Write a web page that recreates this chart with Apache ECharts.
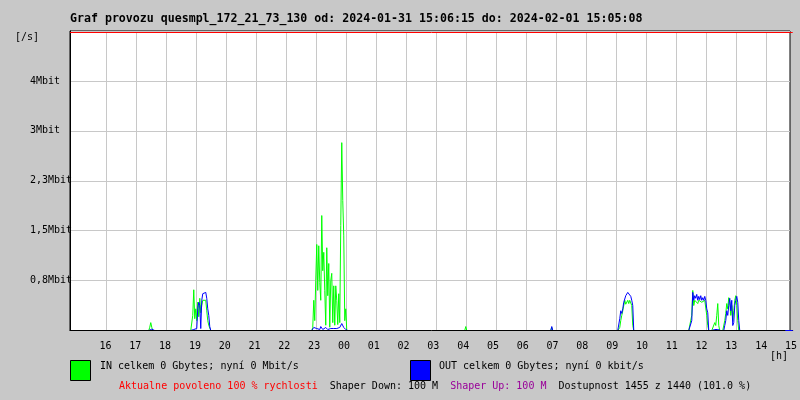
<!DOCTYPE html>
<html>
<head>
<meta charset="utf-8">
<script src="https://cdn.jsdelivr.net/npm/echarts@6/dist/echarts.min.js"></script>
<style>html,body{margin:0;padding:0;background:#c8c8c8}#c{width:800px;height:400px}</style>
</head>
<body>
<div id="c"></div>
<script>
// ---- data (Mbit/s, one sample every 2 minutes inside each burst, zero elsewhere) ----
const TITLE = 'Graf provozu quesmpl_172_21_73_130 od: 2024-01-31 15:06:15 do: 2024-02-01 15:05:08';
const AXIS_START = '2024-01-31 14:48:30';
const AXIS_END = '2024-02-01 14:48:30';
const LABEL_END = '2024-02-01 15:03:30';
const GRID_START = '2024-01-31 15:28:30';   // first drawn hour line is 16
const FIRST_HOUR_LABEL = '2024-01-31 16:00';
const STEP_MIN = 2;
const Y_MAX = 4.56;
const Y_STEP = 0.76;
const Y_LABELS = ['', '0,8Mbit', '1,5Mbit', '2,3Mbit', '3Mbit', '4Mbit', ''];
const LIMIT = 4.54;

const segStarts = ['2024-01-31 17:26', '2024-01-31 18:50', '2024-01-31 21:32', '2024-01-31 22:52',
  '2024-02-01 03:58', '2024-02-01 06:50', '2024-02-01 09:04', '2024-02-01 10:22', '2024-02-01 11:26'];

const inA = [0,0.05,0.12,0.05,0,0,0,0,0,0,0,0.015,0,0];
const outA = [0,0,0.03,0.02,0,0,0,0,0,0,0,0,0,0];
const inB = [0,0,0.23,0.62,0.18,0.33,0.15,0.43,0.21,0.49,0.27,0.38,0.46,0.43,0.46,0.46,0.30,0.15,0.08,0.05,0,0];
const outB = [0,0.015,0.015,0.015,0.03,0.015,0.03,0.33,0.43,0.38,0.03,0.46,0.56,0.59,0.55,0.58,0.49,0.33,0.23,0.06,0,0];
const inT1 = [0,0.015,0];
const outT1 = [0,0,0];
const inC = [0,0.046,0.46,0.15,0.76,1.31,0.61,1.29,0.73,0.46,1.75,0.91,1.19,0.61,0.08,1.26,0.53,1.02,0.05,0.76,0.87,0.12,0.68,0.08,0.68,0.46,0.09,0.56,0.12,1.60,2.86,1.98,1.44,0.15,0.33,0,0];
const outC = [0,0.015,0.046,0.03,0.06,0.03,0.015,0.03,0.015,0.06,0.046,0.015,0.03,0.015,0.046,0.03,0.015,0.03,0.015,0.03,0.046,0.015,0.03,0.03,0.015,0.03,0.015,0.03,0.046,0.076,0.106,0.09,0.046,0.03,0.015,0,0];
const inT2 = [0,0.06,0];
const outT2 = [0,0,0];
const inT3 = [0,0.046,0];
const outT3 = [0,0.06,0];
const inE = [0,0,0.046,0.15,0.23,0.30,0.33,0.46,0.40,0.43,0.46,0.41,0.46,0.43,0.38,0.08,0,0];
const outE = [0,0,0.18,0.30,0.26,0.33,0.43,0.46,0.53,0.52,0.58,0.56,0.55,0.52,0.46,0.38,0,0];
const inT4 = [0,0.015,0];
const outT4 = [0,0,0];
const inF = [0,0.015,0,0.23,0.61,0.38,0.46,0.43,0.49,0.41,0.46,0.43,0.47,0.43,0.46,0.41,0.46,0.43,0.23,0.076,0,0,0,0,0,0.03,0.12,0.076,0.23,0.41,0.076,0,0,0,0,0,0.15,0.26,0.41,0.33,0.50,0.43,0.23,0.38,0.15,0.30,0.46,0.53,0.38,0.15,0,0,0];
const outF = [0,0,0,0.15,0.58,0.46,0.53,0.49,0.55,0.46,0.52,0.47,0.53,0.46,0.50,0.46,0.52,0.46,0.33,0.27,0,0,0,0,0,0.015,0.015,0.03,0,0.015,0,0,0,0,0,0,0.076,0.15,0.30,0.23,0.38,0.49,0.30,0.46,0.076,0.12,0.38,0.46,0.52,0.43,0.15,0,0];

const inSegs = [inA, inB, inT1, inC, inT2, inT3, inE, inT4, inF];
const outSegs = [outA, outB, outT1, outC, outT2, outT3, outE, outT4, outF];

// ---- helpers ----
function ts(s) { const p = s.replace(' ', 'T'); return new Date(p.length === 16 ? p + ':00' : p).getTime(); }
const tStart = ts(AXIS_START), tEnd = ts(AXIS_END), tLabelEnd = ts(LABEL_END);
const tGrid = ts(GRID_START), tFirstLabel = ts(FIRST_HOUR_LABEL);
function build(segs) {
  const d = [];
  segs.forEach((vals, k) => {
    const t0 = ts(segStarts[k]);
    vals.forEach((v, i) => d.push([t0 + i * STEP_MIN * 60000, v]));
    d.push([t0 + vals.length * STEP_MIN * 60000, null]);   // gap between bursts (baseline = axis line)
  });
  return d;
}
const MONO = 'DejaVu Sans Mono';
const HOUR = 3600000;

const chart = echarts.init(document.getElementById('c'), null, {renderer: 'canvas'});
chart.setOption({
  animation: false,
  backgroundColor: '#c8c8c8',
  grid: [
    {left: 70, right: 10, top: 31, bottom: 69.5, show: true, backgroundColor: '#ffffff', borderColor: '#000000', borderWidth: 1},
    {left: 70, width: 727.5, top: 31, bottom: 69.5, show: false},
    {left: 90, right: 10, top: 31, bottom: 69.5, show: false}
  ],
  xAxis: [
    {gridIndex: 0, type: 'time', min: tStart, max: tEnd, minInterval: HOUR, maxInterval: HOUR,
     axisLine: {show: false}, axisTick: {show: false}, axisLabel: {show: false}, splitLine: {show: false}},
    {gridIndex: 1, type: 'time', min: tStart, max: tLabelEnd, minInterval: HOUR, maxInterval: HOUR, z: 3,
     axisLine: {show: true, lineStyle: {color: '#000000', width: 1}}, axisTick: {show: false},
     splitLine: {show: false},
     axisLabel: {show: true, margin: 11, color: '#000', fontFamily: MONO, fontSize: 10, hideOverlap: false,
       showMinLabel: true, showMaxLabel: true,
       formatter: function (v) { const d = new Date(v); if (v < tFirstLabel || d.getMinutes() !== 0 || d.getSeconds() !== 0) return ''; const h = d.getHours(); return (h < 10 ? '0' : '') + h; }}},
    {gridIndex: 2, type: 'time', min: tGrid, max: tEnd, minInterval: HOUR, maxInterval: HOUR, z: 0,
     axisLine: {show: false}, axisTick: {show: false}, axisLabel: {show: false},
     splitLine: {show: true, showMinLine: false, showMaxLine: false, lineStyle: {color: '#c8c8c8', width: 1}}}
  ],
  yAxis: [
    {gridIndex: 0, type: 'value', min: 0, max: Y_MAX, interval: Y_STEP,
     axisLine: {show: true, lineStyle: {color: '#000000'}}, axisTick: {show: false},
     splitLine: {show: true, lineStyle: {color: '#c8c8c8', width: 1}},
     axisLabel: {margin: 40, align: 'left', color: '#000', fontFamily: MONO, fontSize: 10, padding: [3, 0, 0, 0],
       formatter: function (v, i) { return Y_LABELS[i] || ''; }}},
    {gridIndex: 1, type: 'value', min: 0, max: Y_MAX, show: false},
    {gridIndex: 2, type: 'value', min: 0, max: Y_MAX, show: false}
  ],
  series: [
    {name: 'IN', type: 'line', xAxisIndex: 0, yAxisIndex: 0, data: build(inSegs), showSymbol: false, symbol: 'none',
     connectNulls: false, lineStyle: {color: '#00ff00', width: 1}, itemStyle: {color: '#00ff00'}, z: 2},
    {name: 'OUT', type: 'line', xAxisIndex: 0, yAxisIndex: 0, data: build(outSegs), showSymbol: false, symbol: 'none',
     connectNulls: false, lineStyle: {color: '#0000ff', width: 1}, itemStyle: {color: '#0000ff'}, z: 2},
    {name: 'marks', type: 'line', xAxisIndex: 1, yAxisIndex: 1, data: [], z: 5,
     markLine: {silent: true, symbol: 'none', label: {show: false}, animation: false,
       data: [
         {yAxis: LIMIT, lineStyle: {color: '#ff0000', width: 1, type: 'solid'}},
         [{coord: [tEnd, 0], lineStyle: {color: '#0000ff', width: 1, type: 'solid'}}, {coord: [tLabelEnd, 0]}]
       ]}}
  ],
  graphic: [
    {type: 'text', left: 70, top: 13, style: {text: TITLE, fill: '#000', font: 'bold 11.6px "DejaVu Sans Mono"'}},
    {type: 'text', left: 15, top: 32, style: {text: '[/s]', fill: '#000', font: '10px "DejaVu Sans Mono"'}},
    {type: 'text', left: 770, top: 351, style: {text: '[h]', fill: '#000', font: '10px "DejaVu Sans Mono"'}},
    {type: 'rect', shape: {x: 70.5, y: 360.5, width: 20, height: 20}, style: {fill: '#00ff00', stroke: '#000', lineWidth: 1}},
    {type: 'text', left: 100, top: 361, style: {text: 'IN celkem 0 Gbytes; nyní 0 Mbit/s', fill: '#000', font: '10px "DejaVu Sans Mono"'}},
    {type: 'rect', shape: {x: 410.5, y: 360.5, width: 20, height: 20}, style: {fill: '#0000ff', stroke: '#000', lineWidth: 1}},
    {type: 'text', left: 439, top: 361, style: {text: 'OUT celkem 0 Gbytes; nyní 0 kbit/s', fill: '#000', font: '10px "DejaVu Sans Mono"'}},
    {type: 'text', left: 119, top: 381, style: {
      text: '{r|Aktualne povoleno 100 % rychlosti}  {k|Shaper Down: 100 M}  {p|Shaper Up: 100 M}  {k|Dostupnost 1455 z 1440 (101.0 %)}',
      font: '10px "DejaVu Sans Mono"', fill: '#000',
      rich: {
        r: {fill: '#ff0000', font: '10px "DejaVu Sans Mono"'},
        k: {fill: '#000000', font: '10px "DejaVu Sans Mono"'},
        p: {fill: '#990099', font: '10px "DejaVu Sans Mono"'}
      }}}
  ]
});
</script>
</body>
</html>
